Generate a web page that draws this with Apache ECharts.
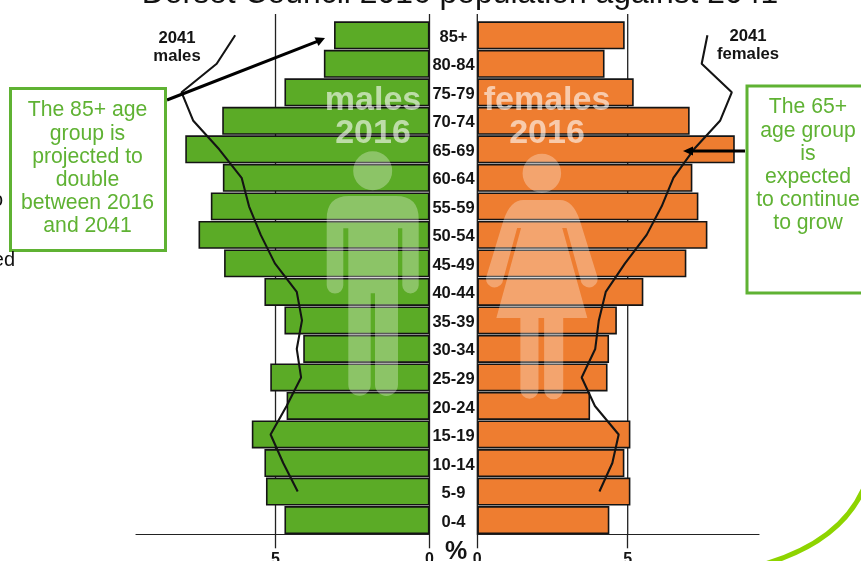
<!DOCTYPE html>
<html>
<head>
<meta charset="utf-8">
<style>html,body{margin:0;padding:0;background:#fff;overflow:hidden}#chart{width:861px;height:561px}</style>
<script src="https://cdn.jsdelivr.net/npm/echarts@6/dist/echarts.min.js"></script>
</head>
<body>
<div id="chart"></div>
<script>
// Population pyramid, Dorset Council: share of population by age band (%)
const ageBands = ['85+','80-84','75-79','70-74','65-69','60-64','55-59','50-54','45-49','40-44','35-39','30-34','25-29','20-24','15-19','10-14','5-9','0-4'];
const males2016 = [3.1,3.43,4.71,6.73,7.93,6.71,7.1,7.5,6.67,5.36,4.71,4.1,5.17,4.64,5.77,5.36,5.31,4.71];
const females2016 = [4.9,4.23,5.2,7.06,8.56,7.15,7.35,7.65,6.95,5.52,4.64,4.38,4.33,3.75,5.09,4.89,5.09,4.39];
// 2041 projection outlines stop at the 5-9 band
const males2041 = [6.31,6.91,8.05,7.67,6.83,6.1,5.86,5.48,5.02,4.31,4.14,4.31,4.17,4.64,5.16,4.75,4.28];
const females2041 = [7.65,7.46,8.46,8.07,7.2,6.52,6.13,5.63,4.91,4.27,4.04,3.92,3.47,3.91,4.7,4.49,4.06];
const tickValues = [0, 5];

const titleText = 'Dorset Council 2016 population against 2041';
const leftNote = ['The 85+ age','group is','projected to','double','between 2016','and 2041'];
const rightNote = ['The 65+','age group','is','expected','to continue','to grow'];

const GREEN = '#5bab26', ORANGE = '#ee7d30', NOTE = '#5fb233', INK = '#141414';
const FONT = '"Liberation Sans", Arial, sans-serif';

// Pictogram outlines laid over the bars
const manPath = 'M353.2 170.7A19.5 19.5 0 1 1 392.2 170.7A19.5 19.5 0 1 1 353.2 170.7Z' +
  'M326.7 219Q326.7 196 349 196L396 196Q418.7 196 418.7 219L418.7 285A8.2 8.2 0 0 1 402.3 285L402.3 228L398 228L398 384A11.5 11.5 0 0 1 375 384L375 293L370.7 293L370.7 384A11.2 11.2 0 0 1 348.3 384L348.3 228L343.3 228L343.3 285A8.3 8.3 0 0 1 326.7 285Z';
const womanPath = 'M522.2 173.3A19.5 19.5 0 1 1 561.2 173.3A19.5 19.5 0 1 1 522.2 173.3Z' +
  'M523 200L560 200Q573 200 580 220L597.2 275A8 8 0 0 1 581.7 283L566.7 228L562.3 228L587.7 318.3L563.3 318.3L563.3 390A9.6 9.6 0 0 1 544 390L544 318.3L538.3 318.3L538.3 390A9.1 9.1 0 0 1 520 390L520 318.3L495.7 318.3L520.7 228L516.7 228L501.7 283A8 8 0 0 1 486.2 275L503 220Q510 200 523 200Z';

function pictogram(pathData, x, y, width, height) {
  return {
    type: 'custom', coordinateSystem: 'none', z: 8, silent: true, data: [0],
    renderItem: () => ({
      type: 'path',
      shape: { pathData, x, y, width, height, layout: 'cover' },
      style: { fill: '#fff', opacity: 0.3 }
    })
  };
}

// Vertical reference lines run past the top of the bars; the zero line also forms the tick
function referenceLines(axisIndex) {
  return {
    type: 'custom', xAxisIndex: axisIndex, yAxisIndex: axisIndex, z: 1, silent: true,
    data: tickValues.map(v => [v, 0]),
    encode: { x: 0, y: 1 },
    renderItem: (params, api) => {
      const v = api.value(0);
      const rowH = api.size([0, 1])[1];
      const x = api.coord([v, 0])[0];
      const top = api.coord([v, 0])[1] - rowH / 2 - 7;
      const bottom = api.coord([v, ageBands.length - 1])[1] + rowH / 2;
      return { type: 'line', shape: { x1: x, y1: top, x2: x, y2: bottom }, style: { stroke: '#222', lineWidth: 1.3 } };
    }
  };
}

function barSeries(values, color, axisIndex) {
  return {
    type: 'bar', xAxisIndex: axisIndex, yAxisIndex: axisIndex, data: values, z: 3,
    barWidth: '98%', itemStyle: { color, borderColor: INK, borderWidth: 1.6 }
  };
}

function outlineSeries(values, axisIndex) {
  return {
    type: 'line', xAxisIndex: axisIndex, yAxisIndex: axisIndex, z: 6, showSymbol: false, symbol: 'none',
    data: values.map((v, i) => [v, ageBands[i]]),
    lineStyle: { color: INK, width: 2.1 }
  };
}

function valueAxis(gridIndex, max, inverse) {
  return {
    type: 'value', gridIndex, min: 0, max, inverse, position: 'bottom',
    splitLine: { show: false },
    axisLine: { show: true, onZero: false, lineStyle: { color: '#222', width: 1.2 } },
    axisTick: { show: true, length: 14, customValues: tickValues, lineStyle: { color: '#222', width: 1.3 } },
    axisLabel: { show: true, customValues: tickValues, margin: 17, color: INK, fontFamily: FONT, fontWeight: 'bold', fontSize: 16 }
  };
}

function textEl(text, x, y, size, fill, extra) {
  return {
    type: 'text', z: 100, silent: true,
    style: Object.assign({
      text, x, y, fill, fontSize: size, fontFamily: FONT,
      align: 'center', verticalAlign: 'middle'
    }, extra || {})
  };
}

function noteEl(lines, cx, cy) {
  return textEl(lines.join('\n'), cx, cy, 21.2, NOTE, { lineHeight: 23.2 });
}

const chart = echarts.init(document.getElementById('chart'), null, { renderer: 'canvas' });
chart.setOption({
  animation: false,
  backgroundColor: '#fff',
  grid: [
    { left: 136, top: 21, width: 293.5, height: 513.3, outerBoundsMode: 'none' },
    { left: 477.3, top: 21, width: 281.7, height: 513.3, outerBoundsMode: 'none' },
    // Narrow central grid that carries only the age labels
    { left: 453.5, top: 23, width: 1, height: 513.3, outerBoundsMode: 'none' }
  ],
  xAxis: [
    valueAxis(0, 9.53, true),
    valueAxis(1, 9.365, false),
    { type: 'value', gridIndex: 2, show: false }
  ],
  yAxis: [
    { type: 'category', gridIndex: 0, data: ageBands, inverse: true, show: false },
    { type: 'category', gridIndex: 1, data: ageBands, inverse: true, show: false },
    {
      type: 'category', gridIndex: 2, data: ageBands, inverse: true,
      axisLine: { show: false }, axisTick: { show: false },
      axisLabel: { margin: 0, align: 'center', color: INK, fontFamily: FONT, fontWeight: 'bold', fontSize: 16.5 }
    }
  ],
  series: [
    referenceLines(0),
    referenceLines(1),
    barSeries(males2016, GREEN, 0),
    barSeries(females2016, ORANGE, 1),
    outlineSeries(males2041, 0),
    outlineSeries(females2041, 1),
    pictogram(manPath, 326.7, 151.2, 92, 244.8),
    pictogram(womanPath, 486, 153.8, 111.7, 245.5)
  ],
  graphic: { elements: [
    // Heading, cut by the top edge of the slide
    textEl(titleText, 460, -6, 31.9, '#111'),
    // Words from the slide's body text showing beside the note
    textEl('to', 3, 200, 20, '#111', { align: 'right' }),
    textEl('ed', 15, 260, 20, '#111', { align: 'right' }),
    // Bold series captions
    textEl('2041\nmales', 177, 47, 16.7, INK, { fontWeight: 'bold', lineHeight: 18 }),
    textEl('2041\nfemales', 748, 45, 16.7, INK, { fontWeight: 'bold', lineHeight: 18 }),
    // Labels over the pictograms
    textEl('males\n2016', 373, 117.5, 34, 'rgba(255,255,255,0.6)', { fontWeight: 'bold', lineHeight: 33 }),
    textEl('females\n2016', 547, 117.5, 34, 'rgba(255,255,255,0.6)', { fontWeight: 'bold', lineHeight: 33 }),
    // Left note and its arrow
    { type: 'line', z: 99, silent: true, shape: { x1: 167, y1: 100, x2: 318, y2: 41.2 }, style: { stroke: '#000', lineWidth: 3 } },
    { type: 'polygon', z: 99, silent: true, shape: { points: [[325, 38], [314.5, 37.2], [318.5, 46]] }, style: { fill: '#000' } },
    { type: 'rect', z: 99, silent: true, shape: { x: 10.5, y: 88.5, width: 155, height: 162 }, style: { fill: '#fff', stroke: NOTE, lineWidth: 3 } },
    noteEl(leftNote, 87.5, 168.5),
    // Right note and its arrow
    { type: 'line', z: 99, silent: true, shape: { x1: 745, y1: 151, x2: 690, y2: 151 }, style: { stroke: '#000', lineWidth: 3 } },
    { type: 'polygon', z: 99, silent: true, shape: { points: [[683, 151], [693, 146.5], [693, 155.5]] }, style: { fill: '#000' } },
    { type: 'rect', z: 99, silent: true, shape: { x: 747, y: 86, width: 130, height: 207 }, style: { fill: '#fff', stroke: NOTE, lineWidth: 3 } },
    noteEl(rightNote, 808, 165.5),
    // Slide template's corner swoosh
    { type: 'bezierCurve', z: 99, silent: true,
      shape: { x1: 866, y1: 483, cpx1: 850, cpy1: 525, cpx2: 812, cpy2: 550, x2: 765, y2: 564 },
      style: { stroke: '#8ed400', lineWidth: 5, fill: 'none' } },
    // Unit mark between the two axes
    textEl('%', 456, 552, 25, INK, { fontWeight: 'bold' })
  ] }
});
</script>
</body>
</html>
